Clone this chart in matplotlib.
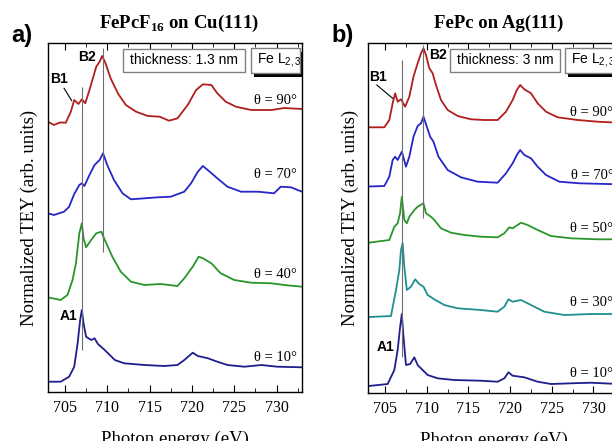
import matplotlib.pyplot as plt
from matplotlib.patches import Rectangle
from matplotlib.ticker import MultipleLocator

# ---------------------------
# Data, intensities in arb. units above each baseline
# ---------------------------
# panel a) FePcF16 on Cu(111)
e_a90 = [703.0, 703.7, 704.4, 705.1, 705.7, 706.1, 706.6, 707.0, 707.4, 707.9, 708.7, 709.1, 709.4,
         709.8, 710.4, 711.3, 712.2, 713.4, 714.8, 716.2, 717.3, 718.3, 719.5, 720.5, 721.3, 722.3,
         723.0, 724.0, 725.2, 727.0, 729.4, 730.9, 733.0]
i_a90 = [1.3, -2, 0.5, 0.3, 11.3, 23, 19, 23.7, 19.7, 33, 56.3, 61.3, 67,
         59.7, 44.7, 29, 18, 11.3, 7, 6.3, 2.3, 4.7, 18, 33, 38.7, 38,
         29.7, 21.3, 16.3, 13, 13, 15, 14]

e_a70 = [703.0, 703.7, 704.9, 705.5, 706.1, 706.7, 707.0, 707.3, 707.9, 708.5, 709.1, 709.5, 710.0,
         710.8, 711.8, 712.8, 714.4, 716.0, 717.5, 719.1, 719.9, 720.7, 721.3, 722.1, 723.0, 724.2,
         725.8, 727.8, 729.7, 730.5, 731.7, 733.0]
i_a70 = [-0.3, -2, 1.3, 6.3, 19, 28, 29.7, 27, 38, 48, 53, 59.7, 48,
         33, 19.7, 13.7, 14.7, 15.7, 16.3, 21.3, 29.7, 41.3, 47, 41.3, 34.7, 26.3,
         21.3, 21.3, 19.7, 26.3, 25.7, 21.3]

e_a40 = [703.0, 704.5, 705.3, 705.9, 706.3, 706.7, 707.0, 707.2, 707.5, 708.1, 708.7, 709.3, 709.8,
         710.6, 711.6, 712.8, 714.4, 716.3, 718.3, 719.1, 720.1, 720.8, 721.3, 722.3, 723.4, 725.0,
         727.0, 729.4, 730.9, 733.0]
i_a40 = [0.7, -2, 3, 18, 34.7, 64.7, 74.7, 59.7, 50.7, 58, 64.7, 66.3, 56.3,
         41.3, 26.3, 16.3, 13, 14, 12, 19.7, 31.3, 41.3, 39.7, 34.7, 24.7, 18,
         15.3, 14.7, 13, 11.3]

e_a10 = [703.0, 704.5, 705.5, 706.1, 706.5, 706.8, 707.0, 707.2, 707.5, 708.1, 708.5, 708.9, 709.7,
         710.9, 712.0, 714.4, 716.7, 718.3, 719.1, 720.1, 720.7, 721.9, 723.0, 724.2, 726.2, 728.2,
         730.1, 733.0]
i_a10 = [0.3, 0.3, 5.3, 15.3, 38.7, 62, 72, 58.7, 45.3, 42, 43.7, 38, 32,
         22, 18.7, 17, 16, 17, 22, 29.3, 26, 23.7, 20.3, 17, 15.3, 17,
         15.3, 14.7]

# panel b) FePc on Ag(111)
e_b90 = [703.0, 704.9, 705.5, 705.9, 706.2, 706.5, 706.9, 707.4, 707.9, 708.4, 708.9, 709.3, 709.6,
         709.9, 710.3, 710.7, 711.1, 711.7, 712.5, 713.7, 715.3, 716.9, 718.5, 719.5, 720.3, 720.8,
         721.2, 721.7, 722.5, 723.3, 724.3, 725.7, 728.1, 730.5, 733.0]
i_b90 = [0, 0, 7.3, 24, 34, 25.6, 28, 20.6, 30.6, 50.6, 64, 74, 79,
         72.3, 59, 54, 42.3, 27.3, 17.3, 11.3, 8, 7.3, 7.3, 15.6, 27.3, 37.3,
         42.3, 38, 34, 24, 15.6, 10, 7.3, 5.6, 4.6]

e_b70 = [703.0, 704.9, 705.5, 705.9, 706.2, 706.5, 707.0, 707.5, 707.9, 708.4, 708.9, 709.3, 709.6,
         710.0, 710.4, 710.8, 711.4, 712.5, 714.1, 716.1, 718.5, 719.5, 720.3, 720.8, 721.2, 721.7,
         722.5, 723.3, 724.3, 725.9, 728.3, 733.0]
i_b70 = [0, 0.5, 9.8, 26.5, 29.8, 26.5, 34.8, 19.8, 29.8, 49.8, 60.5, 63.2, 69.8,
         59.8, 49.8, 44.8, 29.8, 16.5, 9.2, 4.8, 3.8, 13.2, 23.2, 31.5, 36.5, 31.5,
         28.2, 19.8, 11.5, 4.8, 3.2, 2.2]

e_b50 = [703.0, 705.5, 706.1, 706.5, 706.8, 707.0, 707.3, 707.6, 707.9, 708.5, 708.9, 709.6, 709.9,
         710.5, 710.9, 711.7, 712.9, 714.5, 716.5, 718.5, 719.3, 719.9, 720.3, 721.3, 722.1, 723.3,
         724.9, 727.3, 730.5, 733.0]
i_b50 = [0, 2.7, 16, 19.4, 30, 46, 22.7, 19.4, 26, 32.7, 36, 39.4, 29.4,
         26, 22.7, 14.4, 10, 7.7, 6, 5.4, 9.4, 15.4, 14.4, 20, 17.7, 12.7,
         6.7, 4.4, 3.4, 3.4]

e_b30 = [703.0, 705.7, 706.3, 706.7, 706.9, 707.1, 707.3, 707.6, 708.1, 708.6, 709.1, 709.6, 710.1,
         710.9, 712.1, 713.7, 716.5, 718.5, 719.3, 719.8, 720.3, 721.3, 722.5, 724.1, 726.5, 729.7,
         733.0]
i_b30 = [0, 1, 27, 47, 67, 73.7, 50.3, 27, 30.3, 37.7, 33, 30.3, 22,
         17.7, 12, 8.7, 7, 5.3, 10.3, 17.7, 15.3, 17, 12, 5.3, 2, 3,
         3]

e_b10 = [703.0, 705.3, 706.1, 706.5, 706.8, 707.0, 707.2, 707.5, 708.0, 708.5, 708.9, 709.5, 710.1,
         711.3, 713.3, 716.5, 718.5, 719.3, 719.8, 720.3, 721.7, 723.3, 724.9, 727.3, 729.7, 733.0]
i_b10 = [0, 2, 16, 36, 59.3, 72, 49.3, 21, 22, 28.7, 21, 16, 11,
         7.7, 6, 5.3, 4.3, 7.7, 13.7, 10.3, 8.7, 4.3, 2, 2.7, 3.3, 2]

angles_a = ["90", "70", "40", "10"]
offsets_a = [269, 179, 94, 10]
angles_b = ["90", "70", "50", "30", "10"]
offsets_b = [265.7, 206.5, 150.3, 76, 7]

peaks_a = [707.0, 709.5]   # A1/B1 and B2 lines
peaks_b = [707.0, 709.6]

# where the angle labels sit (y, arb. units)
label_y_a = [291, 218, 118, 35]
label_y_b = [281, 218, 165, 91, 20]

# ---------------------------
# Style
# ---------------------------
plt.rcParams["font.family"] = ["Liberation Serif", "DejaVu Serif"]
plt.rcParams["mathtext.fontset"] = "custom"
plt.rcParams["mathtext.rm"] = "Liberation Serif"
plt.rcParams["mathtext.bf"] = "Liberation Serif:bold"
plt.rcParams["mathtext.sf"] = "Liberation Sans"

SANS = ["Liberation Sans", "DejaVu Sans"]
c_red = "#b01e1e"
c_blue = "#2525c8"
c_green = "#2a962a"
c_teal = "#1f8f8f"
c_navy = "#1e1e8c"
c_line = "#6e6e6e"

fig = plt.figure(figsize=(6.12, 4.41), dpi=100)
ax_a = fig.add_axes([0.0784, 0.1111, 0.415, 0.7914])
ax_b = fig.add_axes([0.6021, 0.1088, 0.4085, 0.7937])


def setup(ax, ymax):
    ax.set_xlim(703, 733)
    ax.set_ylim(0, ymax)
    ax.set_yticks([])
    ax.xaxis.set_major_locator(MultipleLocator(5))
    ax.xaxis.set_minor_locator(MultipleLocator(2.5))
    ax.tick_params(axis="x", which="both", direction="in", top=True, labelsize=11.5, pad=6)
    ax.tick_params(axis="x", which="major", length=5)
    ax.tick_params(axis="x", which="minor", length=3)
    ax.set_xlabel("Photon energy (eV)", fontsize=13.5, labelpad=10)
    ax.set_ylabel("Normalized TEY (arb. units)", fontsize=13.5, labelpad=7)
    for s in ax.spines.values():
        s.set_linewidth(1.0)


def boxes(ax, thick_txt, x0, x1, fe_x0, fe_w, fe_txt_x):
    # thickness box
    ax.add_patch(Rectangle((x0, 0.918), x1 - x0, 0.066, transform=ax.transAxes,
                           facecolor="white", edgecolor="#808080", lw=1.0, zorder=5, clip_on=False))
    ax.text((x0 + x1) / 2, 0.951, thick_txt, transform=ax.transAxes, ha="center", va="center",
            family=SANS, fontsize=10, zorder=6)
    # Fe L2,3 box with shadow
    ax.add_patch(Rectangle((fe_x0 + 0.014, 0.903), fe_w, 0.072, transform=ax.transAxes,
                           facecolor="black", edgecolor="black", lw=0, zorder=4, clip_on=False))
    ax.add_patch(Rectangle((fe_x0, 0.913), fe_w, 0.072, transform=ax.transAxes,
                           facecolor="white", edgecolor="#808080", lw=1.0, zorder=5, clip_on=False))
    ax.text(fe_txt_x, 0.951, r"Fe L$_{\mathsf{2,3}}$", transform=ax.transAxes, ha="left", va="center",
            family=SANS, fontsize=10, zorder=6)


# ---------------------------
# Panel a
# ---------------------------
setup(ax_a, 349)
curves_a = [(e_a90, i_a90, c_red), (e_a70, i_a70, c_blue), (e_a40, i_a40, c_green), (e_a10, i_a10, c_navy)]
for (e, i, c), off in zip(curves_a, offsets_a):
    ax_a.plot(e, [v + off for v in i], color=c, lw=1.3)
for ang, y in zip(angles_a, label_y_a):
    ax_a.text(732.4, y, "θ = " + ang + "°", ha="right", va="center", fontsize=10.5)

ax_a.vlines(peaks_a[0], 42, 305, color=c_line, lw=0.8)
ax_a.vlines(peaks_a[1], 140, 344, color=c_line, lw=0.8)
ax_a.text(704.3, 313, "B1", family=SANS, fontweight="bold", fontsize=10, ha="center", va="center")
ax_a.plot([704.9, 705.8], [303.7, 291.3], color="black", lw=0.8)
ax_a.text(707.6, 335, "B2", family=SANS, fontweight="bold", fontsize=10, ha="center", va="center")
ax_a.text(705.4, 76, "A1", family=SANS, fontweight="bold", fontsize=10, ha="center", va="center")
boxes(ax_a, "thickness: 1.3 nm", 0.296, 0.776, 0.798, 0.194, 0.822)

# ---------------------------
# Panel b
# ---------------------------
setup(ax_b, 350)
curves_b = [(e_b90, i_b90, c_red), (e_b70, i_b70, c_blue), (e_b50, i_b50, c_green),
            (e_b30, i_b30, c_teal), (e_b10, i_b10, c_navy)]
for (e, i, c), off in zip(curves_b, offsets_b):
    ax_b.plot(e, [v + off for v in i], color=c, lw=1.3)
for ang, y in zip(angles_b, label_y_b):
    ax_b.text(732.4, y, "θ = " + ang + "°", ha="right", va="center", fontsize=10.5)

ax_b.vlines(peaks_b[0], 36, 333, color=c_line, lw=0.8)
ax_b.vlines(peaks_b[1], 175, 348, color=c_line, lw=0.8)
ax_b.text(704.2, 316, "B1", family=SANS, fontweight="bold", fontsize=10, ha="center", va="center")
ax_b.plot([704.0, 705.9], [308, 294.7], color="black", lw=0.8)
ax_b.text(711.3, 338, "B2", family=SANS, fontweight="bold", fontsize=10, ha="center", va="center")
ax_b.text(705.0, 46, "A1", family=SANS, fontweight="bold", fontsize=10, ha="center", va="center")
boxes(ax_b, "thickness: 3 nm", 0.326, 0.766, 0.786, 0.196, 0.81)

# ---------------------------
# Titles and panel letters
# ---------------------------
fig.text(0.2925, 0.936, r"FePcF$_{\mathbf{16}}$ on Cu(111)", ha="center", va="baseline",
         fontsize=13.5, fontweight="bold")
fig.text(0.815, 0.936, "FePc on Ag(111)", ha="center", va="baseline", fontsize=13.5, fontweight="bold")
fig.text(0.019, 0.905, "a)", family=SANS, fontsize=17, fontweight="bold", va="baseline")
fig.text(0.541, 0.905, "b)", family=SANS, fontsize=17, fontweight="bold", va="baseline")

plt.savefig("out.png", dpi=100)
